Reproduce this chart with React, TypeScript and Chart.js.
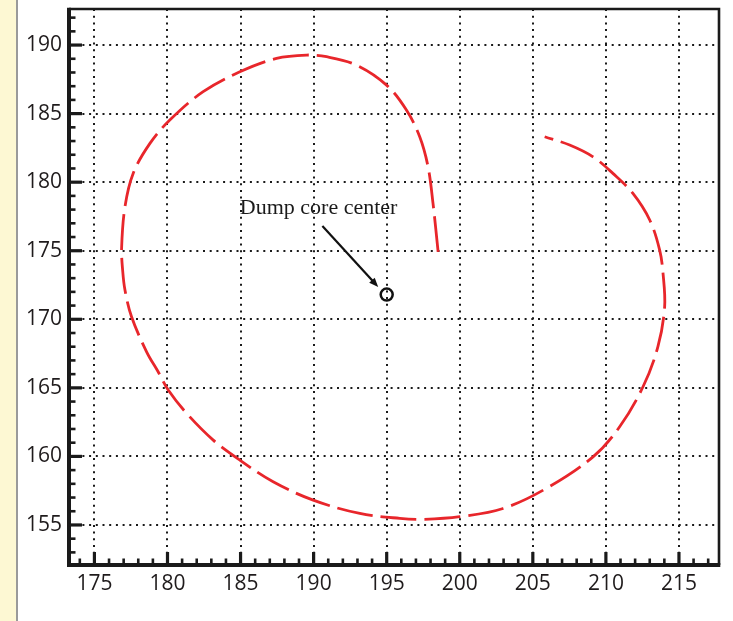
import React, { useEffect, useRef } from "react";
import { Chart, registerables } from "chart.js";

Chart.register(...registerables);

// ---- data ----
const curveX = [
  198.52, 198.17, 197.83, 197.26, 196.35, 194.99, 192.93, 190.88, 189.51, 187.46,
  184.95, 182.44, 180.16, 178.8, 177.65, 177.09, 176.86, 176.93, 177.09, 177.54,
  178.57, 179.36, 180.05, 181.31, 183.13, 184.95, 187.23, 189.97, 193.16, 195.9,
  197.49, 200.0, 202.96, 205.93, 209.12, 210.94, 212.54, 213.56, 214.02, 213.91,
  213.68, 213.0, 211.85, 210.48, 209.12, 207.52, 205.81,
];
const curveY = [
  174.92, 178.45, 181.12, 183.31, 185.26, 187.08, 188.54, 189.15, 189.27, 189.03,
  188.05, 186.6, 184.53, 182.83, 180.64, 178.21, 175.2, 173.59, 172.13, 170.18,
  167.63, 166.17, 164.84, 163.14, 161.19, 159.73, 158.15, 156.81, 155.84, 155.48,
  155.41, 155.6, 156.2, 157.67, 159.97, 162.16, 165.08, 168.0, 170.91, 173.35,
  175.05, 177.24, 179.18, 180.64, 181.85, 182.71, 183.31,
];
const centerPoint = { x: 195.0, y: 171.8 };
const annotationText = "Dump core center";
const annotationPos = { x: 184.95, y: 177.67 };
const arrowFrom = { x: 190.6, y: 176.8 };
const arrowTo = { x: 194.42, y: 172.35 };
const xTicks = [175, 180, 185, 190, 195, 200, 205, 210, 215];
const yTicks = [155, 160, 165, 170, 175, 180, 185, 190];
const xRange = { min: 173.26, max: 217.74 };
const yRange = { min: 152.08, max: 192.63 };

const frameAndTicks = {
  id: "frameAndTicks",
  afterDraw(chart: any) {
    const { ctx, chartArea: a, scales } = chart;
    const x = scales.x;
    const y = scales.y;
    ctx.save();
    ctx.strokeStyle = "#1a1a1a";
    ctx.lineCap = "butt";
    // top & right border
    ctx.lineWidth = 2.6;
    ctx.beginPath();
    ctx.moveTo(a.left, a.top);
    ctx.lineTo(a.right, a.top);
    ctx.lineTo(a.right, a.bottom);
    ctx.stroke();
    // left & bottom axes
    ctx.lineWidth = 4;
    ctx.beginPath();
    ctx.moveTo(a.left, a.top - 1.3);
    ctx.lineTo(a.left, a.bottom);
    ctx.lineTo(a.right + 1.3, a.bottom);
    ctx.stroke();
    // ticks (inward)
    for (let v = Math.ceil(x.min); v <= x.max; v++) {
      const px = x.getPixelForValue(v);
      const major = v % 5 === 0;
      ctx.lineWidth = major ? 3.2 : 2.6;
      ctx.beginPath();
      ctx.moveTo(px, a.bottom);
      ctx.lineTo(px, a.bottom - (major ? 13 : 6.5));
      ctx.stroke();
    }
    for (let v = Math.ceil(y.min); v <= y.max; v++) {
      const py = y.getPixelForValue(v);
      const major = v % 5 === 0;
      ctx.lineWidth = major ? 3.2 : 2.6;
      ctx.beginPath();
      ctx.moveTo(a.left, py);
      ctx.lineTo(a.left + (major ? 13 : 6.5), py);
      ctx.stroke();
    }
    // annotation arrow
    const x0 = x.getPixelForValue(arrowFrom.x);
    const y0 = y.getPixelForValue(arrowFrom.y);
    const x1 = x.getPixelForValue(arrowTo.x);
    const y1 = y.getPixelForValue(arrowTo.y);
    const ang = Math.atan2(y1 - y0, x1 - x0);
    const head = 10;
    ctx.strokeStyle = "#111";
    ctx.lineWidth = 2.2;
    ctx.beginPath();
    ctx.moveTo(x0, y0);
    ctx.lineTo(x1 - Math.cos(ang) * 4, y1 - Math.sin(ang) * 4);
    ctx.stroke();
    ctx.fillStyle = "#111";
    ctx.beginPath();
    ctx.moveTo(x1, y1);
    ctx.lineTo(x1 - head * Math.cos(ang - 0.38), y1 - head * Math.sin(ang - 0.38));
    ctx.lineTo(x1 - head * Math.cos(ang + 0.38), y1 - head * Math.sin(ang + 0.38));
    ctx.closePath();
    ctx.fill();
    // annotation text
    ctx.font = '22px "Liberation Serif", "Times New Roman", serif';
    ctx.fillStyle = "#1a1a1a";
    ctx.textAlign = "left";
    ctx.textBaseline = "alphabetic";
    ctx.fillText(annotationText, x.getPixelForValue(annotationPos.x), y.getPixelForValue(annotationPos.y));
    ctx.restore();
  },
};

const noPad = (s: any) => {
  s.paddingTop = 0;
  s.paddingBottom = 0;
  s.paddingLeft = 0;
  s.paddingRight = 0;
};

export default function App() {
  const ref = useRef<HTMLCanvasElement | null>(null);

  useEffect(() => {
    if (!ref.current) return;
    const chart = new Chart(ref.current, {
      type: "scatter",
      data: {
        datasets: [
          {
            data: curveX.map((v, i) => ({ x: v, y: curveY[i] })),
            showLine: true,
            borderColor: "rgb(232, 38, 43)",
            borderWidth: 2.8,
            borderDash: [36, 8],
            pointRadius: 0,
            tension: 0.35,
            fill: false,
          },
          {
            data: [centerPoint],
            pointRadius: 6,
            pointBorderWidth: 2.5,
            pointBorderColor: "#111",
            pointBackgroundColor: "rgba(0,0,0,0)",
            showLine: false,
          },
        ],
      },
      options: {
        animation: false,
        responsive: false,
        devicePixelRatio: 1,
        layout: { autoPadding: false, padding: { left: 0, top: 9, right: 14, bottom: 0 } },
        plugins: { legend: { display: false }, tooltip: { enabled: false } },
        scales: {
          x: {
            type: "linear",
            min: xRange.min,
            max: xRange.max,
            afterFit: (s: any) => {
              s.height = 56;
              noPad(s);
            },
            afterBuildTicks: (s: any) => {
              s.ticks = xTicks.map((v) => ({ value: v }));
            },
            grid: { color: "#1a1a1a", lineWidth: 2, drawTicks: false },
            border: { display: false, dash: [2, 4.7] },
            ticks: {
              padding: 6,
              color: "#1f1b1c",
              font: { family: '"Open Sans", sans-serif', size: 21 },
              callback: (v: any) => String(v),
            },
          },
          y: {
            type: "linear",
            min: yRange.min,
            max: yRange.max,
            afterFit: (s: any) => {
              s.width = 69;
              noPad(s);
            },
            afterBuildTicks: (s: any) => {
              s.ticks = yTicks.map((v) => ({ value: v }));
            },
            grid: { color: "#1a1a1a", lineWidth: 2, drawTicks: false },
            border: { display: false, dash: [2, 4.7] },
            ticks: {
              padding: 7,
              color: "#1f1b1c",
              font: { family: '"Open Sans", sans-serif', size: 21 },
              callback: (v: any) => String(v),
            },
          },
        },
      },
      plugins: [frameAndTicks],
    });
    return () => chart.destroy();
  }, []);

  return (
    <div style={{ position: "absolute", left: 0, top: 0, width: 733, height: 621, background: "#fff" }}>
      <div
        style={{
          position: "absolute",
          left: 0,
          top: 0,
          width: 16,
          height: 621,
          background: "#fdf8d3",
          borderRight: "2px solid #9a9a9a",
        }}
      />
      <canvas ref={ref} width={733} height={621} style={{ position: "absolute", left: 0, top: 0 }} />
    </div>
  );
}
